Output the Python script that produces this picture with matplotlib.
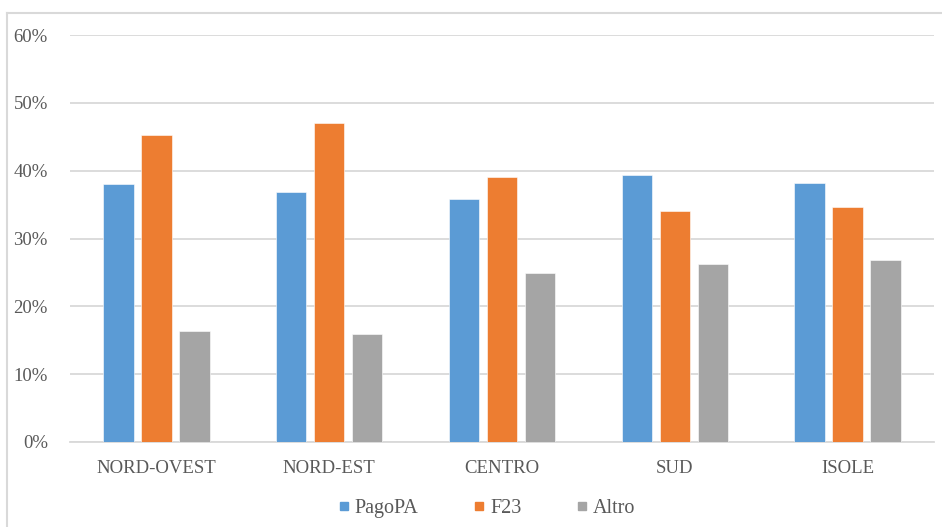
import numpy as np
import matplotlib
matplotlib.use('Agg')
import matplotlib.pyplot as plt
from matplotlib.lines import Line2D

# dati
regioni = ['NORD-OVEST', 'NORD-EST', 'CENTRO', 'SUD', 'ISOLE']
pagopa = [0.381, 0.368, 0.358, 0.394, 0.382]
f23 = [0.452, 0.471, 0.390, 0.341, 0.346]
altro = [0.163, 0.159, 0.249, 0.262, 0.268]
serie = ['PagoPA', 'F23', 'Altro']
colori = ['#5B9BD5', '#ED7D31', '#A5A5A5']
yticks = [0, 0.1, 0.2, 0.3, 0.4, 0.5, 0.6]

famiglia = ['Liberation Serif', 'DejaVu Serif']
plt.rcParams['font.family'] = famiglia
grigio_testo = '#595959'
grigio_linee = '#D9D9D9'

fig = plt.figure(figsize=(9.42, 5.27), dpi=100)
ax = fig.add_axes([70 / 942, 1 - 442 / 527, (934 - 70) / 942, (442 - 35) / 527])

x = np.arange(len(regioni))
larghezza = 0.175
passo = 0.22
for i, (valori, nome, col) in enumerate(zip([pagopa, f23, altro], serie, colori)):
    ax.bar(x + (i - 1) * passo, valori, larghezza, color=col, label=nome,
           edgecolor='white', linewidth=0.4, zorder=3)

ax.set_xlim(-0.5, len(regioni) - 0.5)
ax.set_ylim(0, 0.6)
ax.set_yticks(yticks)
ax.set_yticklabels([f'{int(round(v * 100))}%' for v in yticks])
ax.set_xticks(x)
ax.set_xticklabels(regioni)
ax.tick_params(axis='both', length=0, labelsize=13.5, colors=grigio_testo)
ax.tick_params(axis='y', pad=16)
ax.tick_params(axis='x', pad=13)
ax.grid(axis='y', color=grigio_linee, linewidth=1.3, zorder=0)
for lato in ['top', 'right', 'left']:
    ax.spines[lato].set_visible(False)
ax.spines['bottom'].set_color(grigio_linee)
ax.spines['bottom'].set_linewidth(1.3)

# legenda in basso
maniglie = [Line2D([], [], marker='s', linestyle='none', markersize=6,
                   markerfacecolor=c, markeredgecolor=c) for c in colori]
leg = fig.legend(maniglie, serie, loc='center', bbox_to_anchor=(487 / 942, 1 - 508 / 527),
                 ncol=3, frameon=False, prop={'family': famiglia, 'size': 14.5},
                 handlelength=0.5, handletextpad=0.3, columnspacing=2.75)
for t in leg.get_texts():
    t.set_color(grigio_testo)

# cornice esterna
fig.add_artist(Line2D([7 / 942, 1], [1 - 13 / 527, 1 - 13 / 527], color=grigio_linee,
                      linewidth=1.5, transform=fig.transFigure))
fig.add_artist(Line2D([7 / 942, 7 / 942], [0, 1 - 13 / 527], color=grigio_linee,
                      linewidth=1.5, transform=fig.transFigure))

fig.savefig('out.png', dpi=100)
